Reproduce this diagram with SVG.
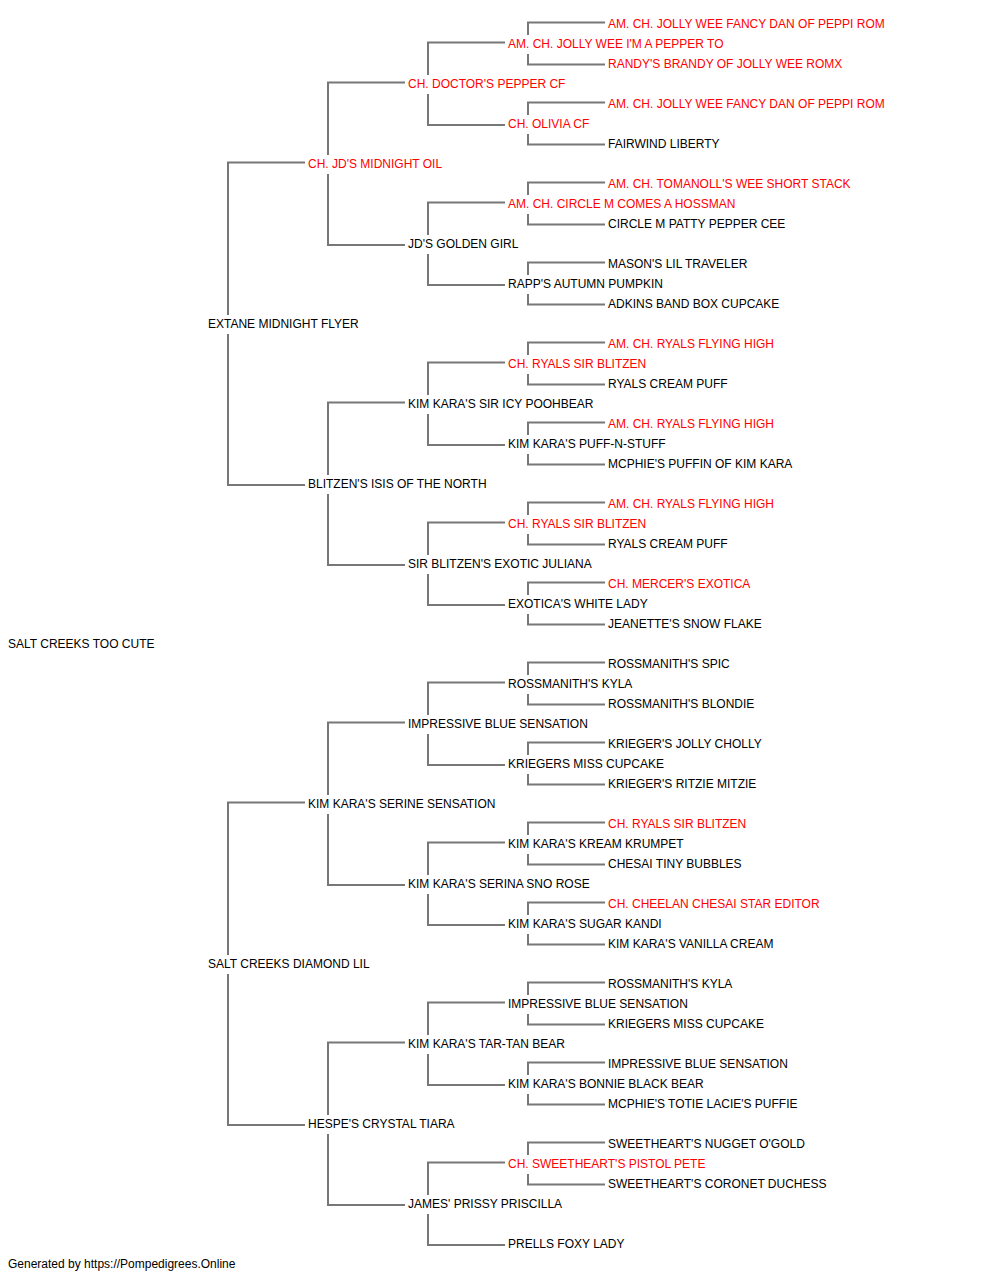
<svg xmlns="http://www.w3.org/2000/svg" width="1000" height="1280" viewBox="0 0 1000 1280">
<style>
text{font-family:"Liberation Sans",Arial,sans-serif;font-size:12px;fill:#000}
text.ch{fill:#ff0000}
.conn path{fill:none;stroke:#777;stroke-width:2}
</style>
<rect width="1000" height="1280" fill="#fff"/>
<g class="conn" id="connectors">
<path d="M228,315V162.5H305M228,334V485H305"/>
<path d="M228,955V802.5H305M228,974V1125H305"/>
<path d="M328,155V82.5H405M328,174V245H405"/>
<path d="M328,475V402.5H405M328,494V565H405"/>
<path d="M328,795V722.5H405M328,814V885H405"/>
<path d="M328,1115V1042.5H405M328,1134V1205H405"/>
<path d="M428,75V42.5H505M428,94V125H505"/>
<path d="M428,235V202.5H505M428,254V285H505"/>
<path d="M428,395V362.5H505M428,414V445H505"/>
<path d="M428,555V522.5H505M428,574V605H505"/>
<path d="M428,715V682.5H505M428,734V765H505"/>
<path d="M428,875V842.5H505M428,894V925H505"/>
<path d="M428,1035V1002.5H505M428,1054V1085H505"/>
<path d="M428,1195V1162.5H505M428,1214V1245H505"/>
<path d="M528,35V22.5H605M528,54V64.5H605"/>
<path d="M528,115V102.5H605M528,134V144.5H605"/>
<path d="M528,195V182.5H605M528,214V224.5H605"/>
<path d="M528,275V262.5H605M528,294V304.5H605"/>
<path d="M528,355V342.5H605M528,374V384.5H605"/>
<path d="M528,435V422.5H605M528,454V464.5H605"/>
<path d="M528,515V502.5H605M528,534V544.5H605"/>
<path d="M528,595V582.5H605M528,614V624.5H605"/>
<path d="M528,675V662.5H605M528,694V704.5H605"/>
<path d="M528,755V742.5H605M528,774V784.5H605"/>
<path d="M528,835V822.5H605M528,854V864.5H605"/>
<path d="M528,915V902.5H605M528,934V944.5H605"/>
<path d="M528,995V982.5H605M528,1014V1024.5H605"/>
<path d="M528,1075V1062.5H605M528,1094V1104.5H605"/>
<path d="M528,1155V1142.5H605M528,1174V1184.5H605"/>
</g>
<g id="g0"><text x="8" y="648">SALT CREEKS TOO CUTE</text></g>
<g id="g1a"><text x="208" y="328">EXTANE MIDNIGHT FLYER</text></g>
<g id="g1b"><text x="208" y="968">SALT CREEKS DIAMOND LIL</text></g>
<g id="g2a"><text class="ch" x="308" y="168">CH. JD'S MIDNIGHT OIL</text></g>
<g id="g2b"><text x="308" y="488">BLITZEN'S ISIS OF THE NORTH</text></g>
<g id="g2c"><text x="308" y="808">KIM KARA'S SERINE SENSATION</text></g>
<g id="g2d"><text x="308" y="1128">HESPE'S CRYSTAL TIARA</text></g>
<g id="g3a"><text class="ch" x="408" y="88">CH. DOCTOR'S PEPPER CF</text></g>
<g id="g3b"><text x="408" y="248">JD'S GOLDEN GIRL</text></g>
<g id="g3c"><text x="408" y="408">KIM KARA'S SIR ICY POOHBEAR</text></g>
<g id="g3d"><text x="408" y="568">SIR BLITZEN'S EXOTIC JULIANA</text></g>
<g id="g3e"><text x="408" y="728">IMPRESSIVE BLUE SENSATION</text></g>
<g id="g3f"><text x="408" y="888">KIM KARA'S SERINA SNO ROSE</text></g>
<g id="g3g"><text x="408" y="1048">KIM KARA'S TAR-TAN BEAR</text></g>
<g id="g3h"><text x="408" y="1208">JAMES' PRISSY PRISCILLA</text></g>
<g id="g4a"><text class="ch" x="508" y="48">AM. CH. JOLLY WEE I'M A PEPPER TO</text></g>
<g id="g4b"><text class="ch" x="508" y="128">CH. OLIVIA CF</text></g>
<g id="g4c"><text class="ch" x="508" y="208">AM. CH. CIRCLE M COMES A HOSSMAN</text></g>
<g id="g4d"><text x="508" y="288">RAPP'S AUTUMN PUMPKIN</text></g>
<g id="g4e"><text class="ch" x="508" y="368">CH. RYALS SIR BLITZEN</text></g>
<g id="g4f"><text x="508" y="448">KIM KARA'S PUFF-N-STUFF</text></g>
<g id="g4g"><text class="ch" x="508" y="528">CH. RYALS SIR BLITZEN</text></g>
<g id="g4h"><text x="508" y="608">EXOTICA'S WHITE LADY</text></g>
<g id="g4i"><text x="508" y="688">ROSSMANITH'S KYLA</text></g>
<g id="g4j"><text x="508" y="768">KRIEGERS MISS CUPCAKE</text></g>
<g id="g4k"><text x="508" y="848">KIM KARA'S KREAM KRUMPET</text></g>
<g id="g4l"><text x="508" y="928">KIM KARA'S SUGAR KANDI</text></g>
<g id="g4m"><text x="508" y="1008">IMPRESSIVE BLUE SENSATION</text></g>
<g id="g4n"><text x="508" y="1088">KIM KARA'S BONNIE BLACK BEAR</text></g>
<g id="g4o"><text class="ch" x="508" y="1168">CH. SWEETHEART'S PISTOL PETE</text></g>
<g id="g4p"><text x="508" y="1248">PRELLS FOXY LADY</text></g>
<g id="g5a"><text class="ch" x="608" y="28">AM. CH. JOLLY WEE FANCY DAN OF PEPPI ROM</text></g>
<g id="g5b"><text class="ch" x="608" y="68">RANDY'S BRANDY OF JOLLY WEE ROMX</text></g>
<g id="g5c"><text class="ch" x="608" y="108">AM. CH. JOLLY WEE FANCY DAN OF PEPPI ROM</text></g>
<g id="g5d"><text x="608" y="148">FAIRWIND LIBERTY</text></g>
<g id="g5e"><text class="ch" x="608" y="188">AM. CH. TOMANOLL'S WEE SHORT STACK</text></g>
<g id="g5f"><text x="608" y="228">CIRCLE M PATTY PEPPER CEE</text></g>
<g id="g5g"><text x="608" y="268">MASON'S LIL TRAVELER</text></g>
<g id="g5h"><text x="608" y="308">ADKINS BAND BOX CUPCAKE</text></g>
<g id="g5i"><text class="ch" x="608" y="348">AM. CH. RYALS FLYING HIGH</text></g>
<g id="g5j"><text x="608" y="388">RYALS CREAM PUFF</text></g>
<g id="g5k"><text class="ch" x="608" y="428">AM. CH. RYALS FLYING HIGH</text></g>
<g id="g5l"><text x="608" y="468">MCPHIE'S PUFFIN OF KIM KARA</text></g>
<g id="g5m"><text class="ch" x="608" y="508">AM. CH. RYALS FLYING HIGH</text></g>
<g id="g5n"><text x="608" y="548">RYALS CREAM PUFF</text></g>
<g id="g5o"><text class="ch" x="608" y="588">CH. MERCER'S EXOTICA</text></g>
<g id="g5p"><text x="608" y="628">JEANETTE'S SNOW FLAKE</text></g>
<g id="g5q"><text x="608" y="668">ROSSMANITH'S SPIC</text></g>
<g id="g5r"><text x="608" y="708">ROSSMANITH'S BLONDIE</text></g>
<g id="g5s"><text x="608" y="748">KRIEGER'S JOLLY CHOLLY</text></g>
<g id="g5t"><text x="608" y="788">KRIEGER'S RITZIE MITZIE</text></g>
<g id="g5u"><text class="ch" x="608" y="828">CH. RYALS SIR BLITZEN</text></g>
<g id="g5v"><text x="608" y="868">CHESAI TINY BUBBLES</text></g>
<g id="g5w"><text class="ch" x="608" y="908">CH. CHEELAN CHESAI STAR EDITOR</text></g>
<g id="g5x"><text x="608" y="948">KIM KARA'S VANILLA CREAM</text></g>
<g id="g5y"><text x="608" y="988">ROSSMANITH'S KYLA</text></g>
<g id="g5z"><text x="608" y="1028">KRIEGERS MISS CUPCAKE</text></g>
<g id="g5aa"><text x="608" y="1068">IMPRESSIVE BLUE SENSATION</text></g>
<g id="g5ab"><text x="608" y="1108">MCPHIE'S TOTIE LACIE'S PUFFIE</text></g>
<g id="g5ac"><text x="608" y="1148">SWEETHEART'S NUGGET O'GOLD</text></g>
<g id="g5ad"><text x="608" y="1188">SWEETHEART'S CORONET DUCHESS</text></g>
<g id="footer"><text x="8" y="1268">Generated by https://Pompedigrees.Online</text></g>
</svg>
